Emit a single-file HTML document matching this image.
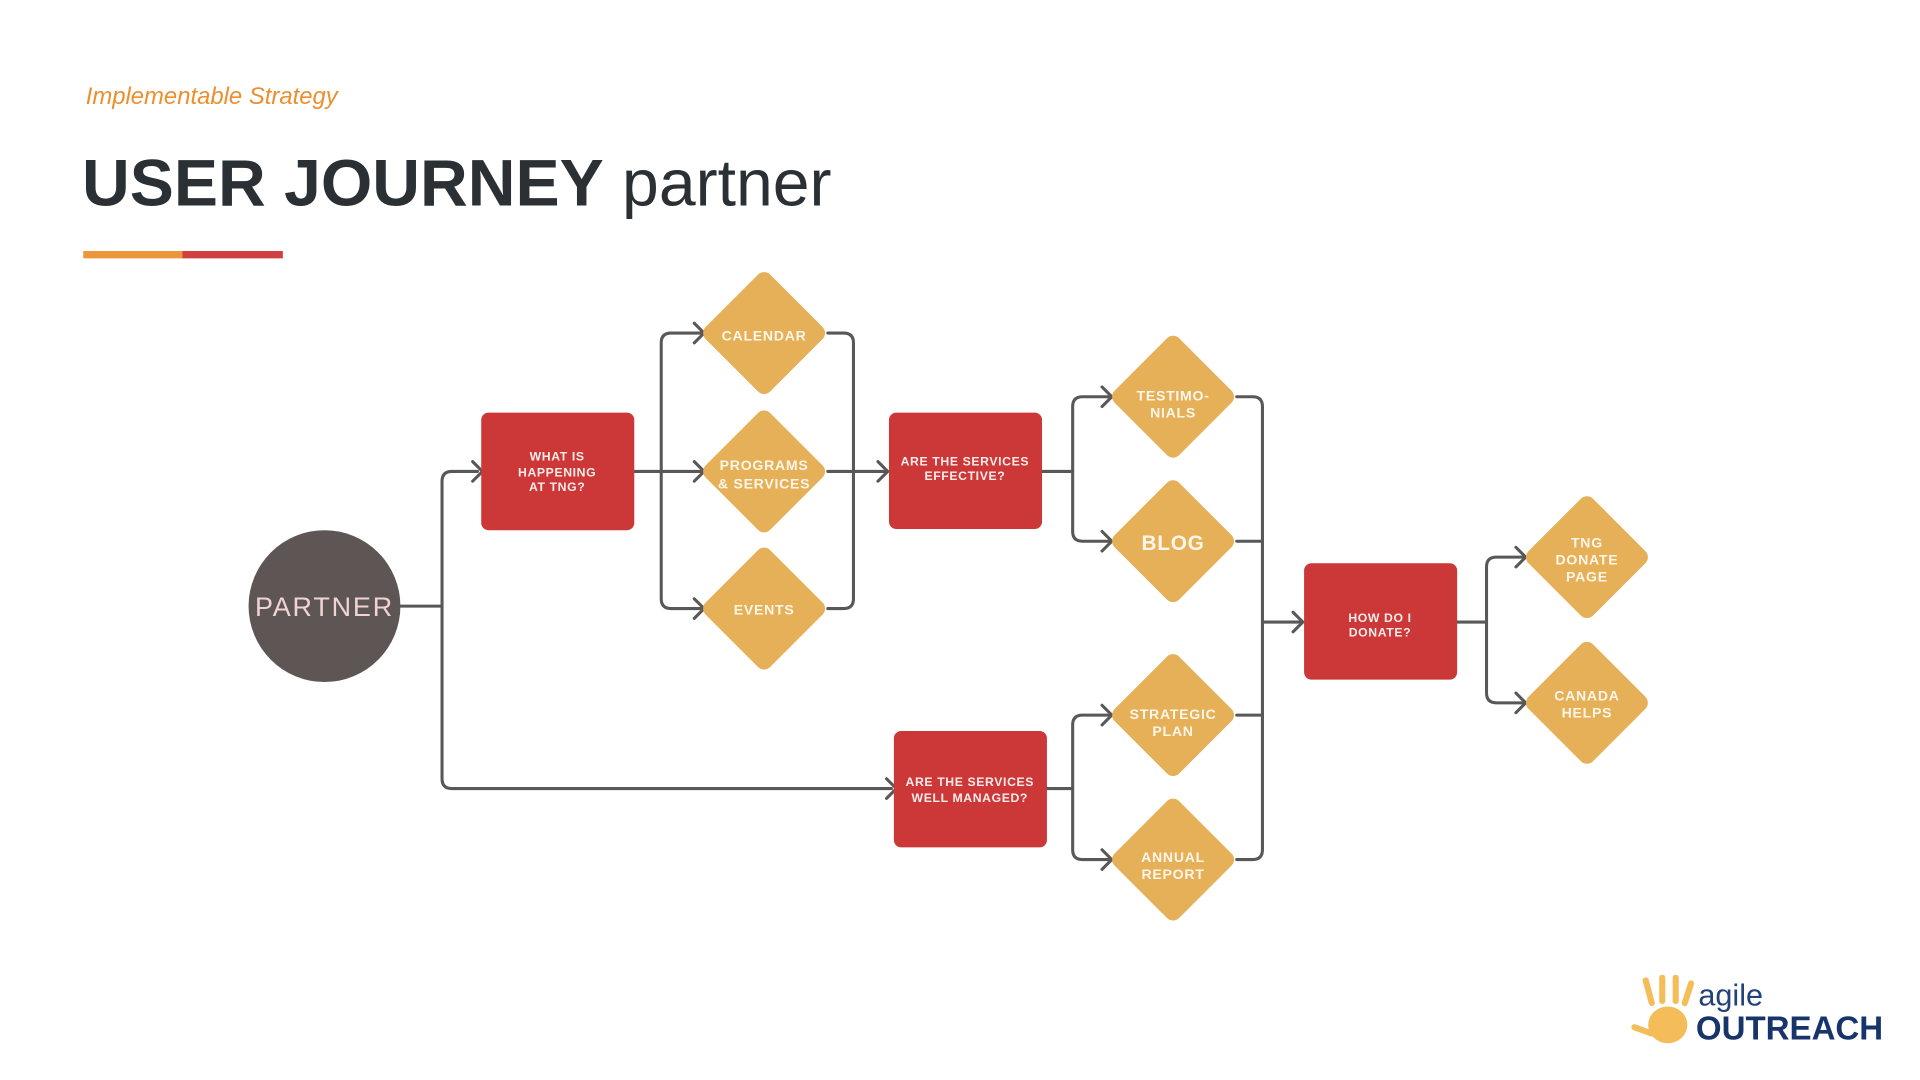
<!DOCTYPE html>
<html><head><meta charset="utf-8"><style>
html,body{margin:0;padding:0;background:#fff;}
svg{display:block;}
text{font-family:"Liberation Sans","DejaVu Sans",sans-serif;}
</style></head><body>
<svg width="1920" height="1080" viewBox="0 0 1568 882" xmlns="http://www.w3.org/2000/svg">
<defs>
<g id="dia"><rect x="-37.25" y="-37.25" width="74.5" height="74.5" rx="7" transform="rotate(45)" fill="#e5b058"/></g>
</defs>
<text x="70" y="85" font-size="19.5" font-style="italic" fill="#ec8f2f">Implementable Strategy</text>
<text x="67" y="168" font-size="54" fill="#2b3035"><tspan font-weight="bold">USER JOURNEY</tspan> partner</text>
<rect x="68" y="205" width="81" height="6" fill="#ec963a"/>
<rect x="149" y="205" width="82" height="6" fill="#d04040"/>

<g fill="none" stroke="#585858" stroke-width="2.5" stroke-linejoin="round" stroke-linecap="round">
<path d="M327 495 H361"/>
<path d="M390 385 H369 Q361 385 361 393 V636 Q361 644 369 644 H728"/>
<path d="M518 385 H573"/>
<path d="M573 272 H548 Q540 272 540 280 V489 Q540 497 548 497 H573"/>
<path d="M676 272 H689 Q697 272 697 280 V489 Q697 497 689 497 H676"/>
<path d="M676 385 H723"/>
<path d="M851 385 H876"/>
<path d="M906 324 H884 Q876 324 876 332 V434 Q876 442 884 442 H906"/>
<path d="M855 644 H876"/>
<path d="M906 584 H884 Q876 584 876 592 V694 Q876 702 884 702 H906"/>
<path d="M1010 324 H1023 Q1031 324 1031 332 V694 Q1031 702 1023 702 H1010"/>
<path d="M1010 442 H1031 M1010 584 H1031"/>
<path d="M1031 508 H1062"/>
<path d="M1190 508 H1214"/>
<path d="M1244 455 H1222 Q1214 455 1214 463 V566 Q1214 574 1222 574 H1244"/>
<path d="M386 377 L394 385 L386 393"/>
<path d="M724 636 L732 644 L724 652"/>
<path d="M567 264 L575 272 L567 280"/>
<path d="M567 377 L575 385 L567 393"/>
<path d="M567 489 L575 497 L567 505"/>
<path d="M717 377 L725 385 L717 393"/>
<path d="M900 316 L908 324 L900 332"/>
<path d="M900 434 L908 442 L900 450"/>
<path d="M900 576 L908 584 L900 592"/>
<path d="M900 694 L908 702 L900 710"/>
<path d="M1056 500 L1064 508 L1056 516"/>
<path d="M1238 447 L1246 455 L1238 463"/>
<path d="M1238 566 L1246 574 L1238 582"/>
</g>

<circle cx="265" cy="495" r="62" fill="#5d5654"/>
<text x="265" y="503" font-size="22" fill="#f2d3d3" text-anchor="middle" letter-spacing="1.5">PARTNER</text>

<g fill="#cc3737">
<rect x="393" y="337" width="125" height="96" rx="6"/>
<rect x="726" y="337" width="125" height="95" rx="6"/>
<rect x="730" y="597" width="125" height="95" rx="6"/>
<rect x="1065" y="460" width="125" height="95" rx="6"/>
</g>
<g fill="#fbecec" font-size="10" font-weight="bold" text-anchor="middle" letter-spacing="0.5">
<text x="455" y="376">WHAT IS</text><text x="455" y="389">HAPPENING</text><text x="455" y="401">AT TNG?</text>
<text x="788" y="380">ARE THE SERVICES</text><text x="788" y="392">EFFECTIVE?</text>
<text x="792" y="642">ARE THE SERVICES</text><text x="792" y="655">WELL MANAGED?</text>
<text x="1127" y="508">HOW DO I</text><text x="1127" y="520">DONATE?</text>
</g>

<use href="#dia" x="624" y="272"/><use href="#dia" x="624" y="385"/><use href="#dia" x="624" y="497"/>
<use href="#dia" x="958" y="324"/><use href="#dia" x="958" y="442"/>
<use href="#dia" x="958" y="584"/><use href="#dia" x="958" y="702"/>
<use href="#dia" x="1296" y="455"/><use href="#dia" x="1296" y="574"/>
<g fill="#fff6ea" font-size="11.5" font-weight="bold" text-anchor="middle" letter-spacing="0.6">
<text x="624" y="278">CALENDAR</text>
<text x="624" y="384">PROGRAMS</text><text x="624" y="399">&amp; SERVICES</text>
<text x="624" y="502">EVENTS</text>
<text x="958" y="327">TESTIMO-</text><text x="958" y="341">NIALS</text>
<text x="958" y="449" font-size="17">BLOG</text>
<text x="958" y="587">STRATEGIC</text><text x="958" y="601">PLAN</text>
<text x="958" y="704">ANNUAL</text><text x="958" y="718">REPORT</text>
<text x="1296" y="447">TNG</text><text x="1296" y="461">DONATE</text><text x="1296" y="475">PAGE</text>
<text x="1296" y="572">CANADA</text><text x="1296" y="586">HELPS</text>
</g>

<g fill="#f5bd5a">
<ellipse cx="1362" cy="837" rx="16" ry="15"/>
<rect x="1344" y="798" width="5" height="24" rx="2.5" transform="rotate(-15 1346 810)"/>
<rect x="1355" y="796" width="5" height="24" rx="2.5"/>
<rect x="1366" y="796" width="5" height="24" rx="2.5"/>
<rect x="1376" y="800" width="5" height="22" rx="2.5" transform="rotate(18 1378 811)"/>
<rect x="1332" y="839" width="20" height="5" rx="2.5" transform="rotate(20 1342 841)"/>
</g>
<text x="1387" y="821" font-size="25" fill="#22427a">agile</text>
<text x="1385" y="849" font-size="27" font-weight="bold" fill="#17356b">OUTREACH</text>
</svg>
</body></html>
